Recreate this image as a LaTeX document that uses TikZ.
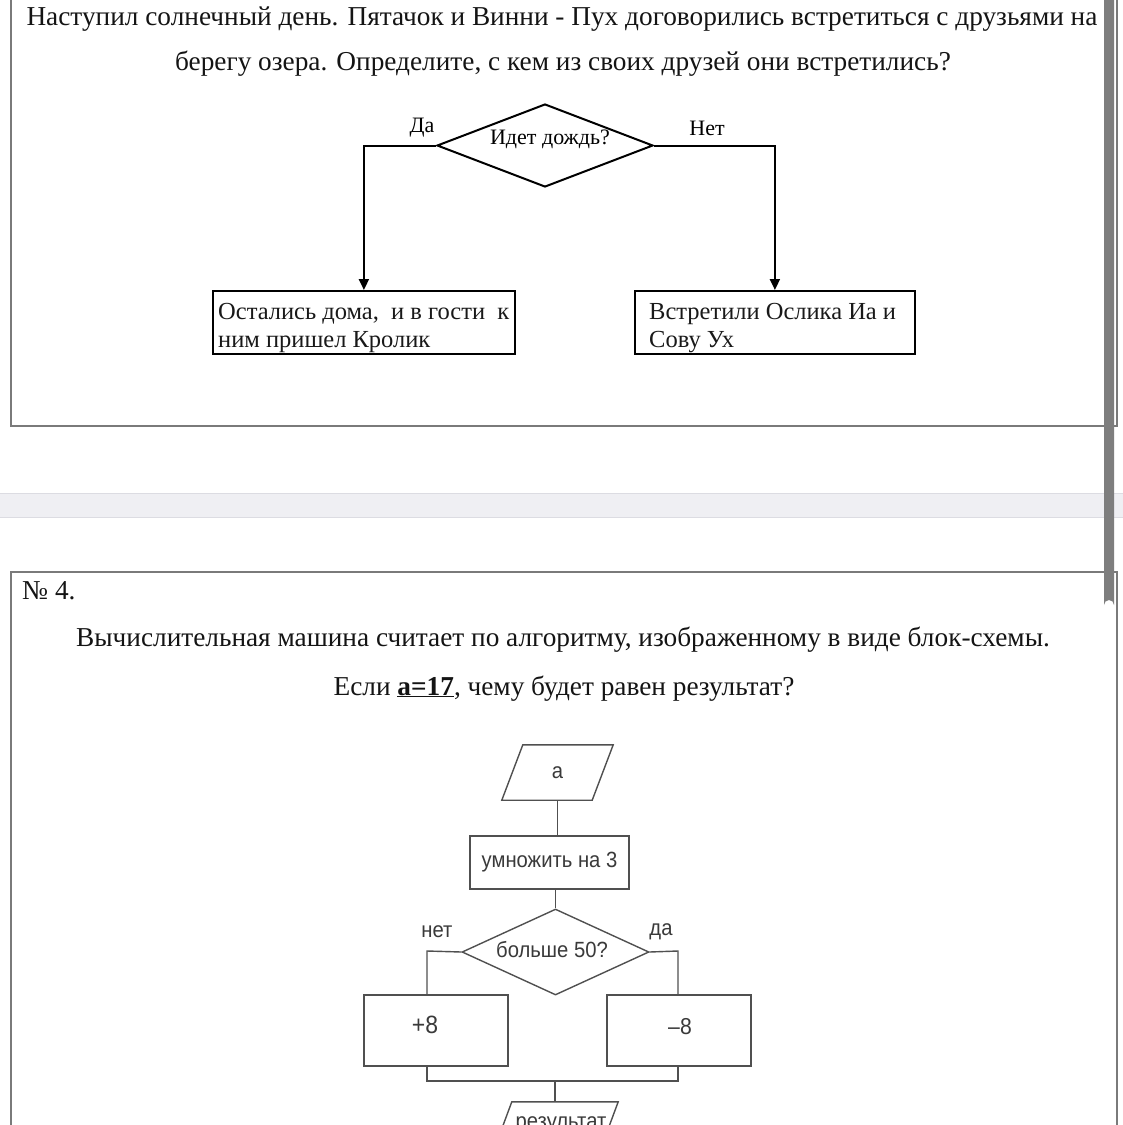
\documentclass[tikz,border=0pt]{standalone}
\usepackage{fontspec}
\setmainfont{Liberation Serif}
\newfontfamily\arialf{Liberation Sans}[FakeStretch=0.92]
\usetikzlibrary{shapes.geometric,arrows.meta,calc}
\definecolor{framegray}{HTML}{7A7A7A}
\definecolor{bandgray}{HTML}{EFEFF3}
\definecolor{bandedge}{HTML}{DCDCE2}
\definecolor{scrollgray}{HTML}{7E7E7E}
\definecolor{chartgray}{HTML}{505050}
\definecolor{charttext}{HTML}{3A3A3A}
\definecolor{maintext}{HTML}{141414}
\begin{document}
\begin{tikzpicture}[x=1pt,y=-1pt,
  frame/.style={draw=framegray,line width=1.4pt},
  bigtext/.style={font=\fontsize{27.3}{32}\selectfont,text=maintext,inner sep=0},
  toptext/.style={font=\fontsize{22}{26}\selectfont,text=black,inner sep=0},
  boxtext/.style={font=\fontsize{24.5}{29}\selectfont,text=black!90,inner sep=0},
  tline/.style={draw=black,line width=2pt},
  tarrow/.style={tline,-{Triangle[length=11pt,width=10pt]}},
  tbox/.style={draw=black,line width=1.8pt,inner sep=0},
  bline/.style={draw=chartgray,line width=1.4pt},
  btext/.style={font=\arialf\fontsize{22}{26}\selectfont,text=charttext,inner sep=0},
  bbox/.style={draw=chartgray,line width=1.4pt,inner sep=0}]
\useasboundingbox (0,0) rectangle (1123,1125);
\clip (0,0) rectangle (1123,1125);
\fill[white] (0,0) rectangle (1123,1125);
% frames and page elements
\draw[frame] (11,-5) -- (11,426) -- (1117,426) -- (1117,-5);
\fill[bandgray] (0,493) rectangle (1123,517);
\draw[bandedge,line width=1pt] (0,493) -- (1123,493);
\draw[bandedge,line width=1pt] (0,517) -- (1123,517);
\draw[frame] (11,1135) -- (11,572) -- (1117,572) -- (1117,1135);
\fill[scrollgray] (1104,-10) -- (1104,605) arc[start angle=180,end angle=360,radius=5] -- (1114,-10) -- cycle;
% task text
\node[bigtext,anchor=base] (t1) at (562,25) {Наступил солнечный день. Пятачок и Винни - Пух договорились встретиться с друзьями на};
\node[bigtext,anchor=base] (t2) at (563,70) {берегу озера. Определите, с кем из своих друзей они встретились?};
% first chart
\node[diamond,tline,minimum width=216pt,minimum height=83pt,inner sep=0] (d1) at (545,145.5) {};
\node[toptext] (d1t) at (550,139) {Идет дождь?};
\node[toptext] (da) at (422,128) {Да};
\node[toptext] (net) at (707,128) {Нет};
\node[tbox,anchor=north west,minimum width=302pt,minimum height=63pt] (b1) at (212,290) {};
\node[tbox,anchor=north west,minimum width=280pt,minimum height=63pt] (b2) at (634,290) {};
\node[boxtext,anchor=base west] (b1a) at (218,319) {Остались дома,\ \ и в гости\ \ к};
\node[boxtext,anchor=base west] (b1b) at (218,347) {ним пришел Кролик};
\node[boxtext,anchor=base west] (b2a) at (649,319) {Встретили Ослика Иа и};
\node[boxtext,anchor=base west] (b2b) at (649,347) {Сову Ух};
\draw[tarrow] (d1.west) -| (b1.north);
\draw[tarrow] (d1.east) -| (b2.north);
% second task text
\node[bigtext,anchor=base west] (no4) at (22,599) {№ 4.};
\node[bigtext,anchor=base] (t3) at (563,646) {Вычислительная машина считает по алгоритму, изображенному в виде блок-схемы.};
\node[bigtext,anchor=base] (t4) at (564,695) {Если \underline{\textbf{a=17}}, чему будет равен результат?};
% second chart
\node[btext,minimum width=90pt,minimum height=55pt] (pa) at (557.5,772.5) {a};
\draw[bline] ([xshift=10.5pt]pa.north west) -- ([xshift=10.5pt]pa.north east) -- ([xshift=-10.5pt]pa.south east) -- ([xshift=-10.5pt]pa.south west) -- cycle;
\node[bbox,btext,minimum width=159pt,minimum height=53pt] (mul) at (549.5,862.5) {умножить на 3};
\node[diamond,bbox,minimum width=187pt,minimum height=86pt] (d2) at (555.5,952) {};
\node[btext] (d2t) at (552,950) {больше 50?};
\node[btext] (no) at (437,932) {нет};
\node[btext] (yes) at (661,932) {да};
\node[bbox,minimum width=144pt,minimum height=71pt] (plus) at (436,1030.5) {};
\node[btext,font=\arialf\fontsize{25}{28}\selectfont] (plust) at (425,1025) {+8};
\node[bbox,minimum width=144pt,minimum height=71pt] (minus) at (679,1030.5) {};
\node[btext,font=\arialf\fontsize{23}{28}\selectfont] (minust) at (680,1027) {–8};
\node[btext,minimum width=106pt,minimum height=40pt] (res) at (557.5,1122) {};
\node[btext,anchor=base] (rest) at (561,1128) {результат};
\draw[bline] ([xshift=7.5pt]res.north west) -- ([xshift=7.5pt]res.north east) -- ([xshift=-7.5pt]res.south east) -- ([xshift=-7.5pt]res.south west) -- cycle;
\coordinate (jl) at (427,951);
\coordinate (jr) at (678,951);
\coordinate (mb) at (555,1081);
\draw[bline] (pa.south) -- (pa.south |- mul.north);
\draw[bline] (d2.north |- mul.south) -- (d2.north);
\draw[bline] (d2.west) -- (jl) -- (jl |- plus.north);
\draw[bline] (d2.east) -- (jr) -- (jr |- minus.north);
\draw[bline] (jl |- plus.south) |- (mb) -| (jr |- minus.south);
\draw[bline] (mb) -- (mb |- res.north);
\end{tikzpicture}
\end{document}
